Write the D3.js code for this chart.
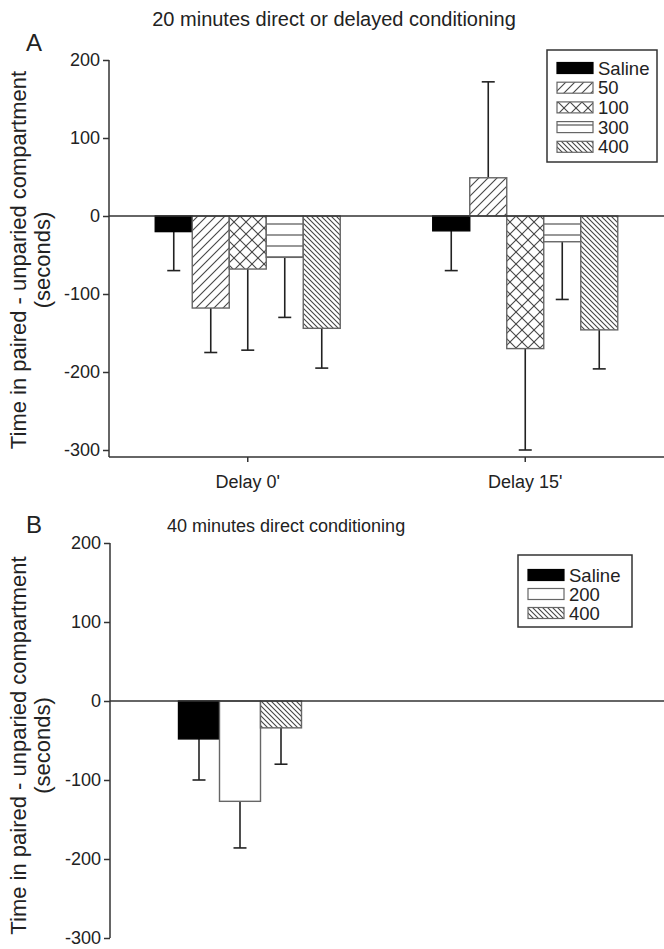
<!DOCTYPE html>
<html>
<head>
<meta charset="utf-8">
<script src="https://cdnjs.cloudflare.com/ajax/libs/d3/7.8.5/d3.min.js"></script>
<style>
  body { margin: 0; background: #fff; }
  svg text { font-family: "Liberation Sans", Arial, sans-serif; fill: #222; }
  .axis path, .axis line { stroke: #333; stroke-width: 1.5; }
  .axis text { font-size: 18px; fill: #222; font-family: "Liberation Sans", Arial, sans-serif; }
</style>
</head>
<body>
<div id="chart"></div>
<script>
// panel A: 20 minutes, direct or delayed
var groupsA = ["Delay 0'", "Delay 15'"];
var dosesA = ["Saline", "50", "100", "300", "400"];
var meansA = [[-20, -118, -68, -53, -144], [-19, 49, -170, -33, -146]];
var tipsA = [[-70, -175, -172, -130, -195], [-70, 172, -300, -107, -196]];

// panel B: 40 minutes direct
var dosesB = ["Saline", "200", "400"];
var meansB = [-48, -127, -34];
var tipsB = [-100, -186, -80];

var yTicks = [-300, -200, -100, 0, 100, 200];

var svgWidth = 664, svgHeight = 949;

var svg = d3.select("#chart")
  .append("svg")
  .attr("width", svgWidth)
  .attr("height", svgHeight);

// fill patterns for each dose
var defs = svg.append("defs");

function linePattern(id, size, lines, bg) {
  var p = defs.append("pattern")
    .attr("id", id)
    .attr("patternUnits", "userSpaceOnUse")
    .attr("width", size)
    .attr("height", size);
  p.append("rect").attr("width", size).attr("height", size).attr("fill", bg);
  lines.forEach(function (l) {
    p.append("path").attr("d", l)
      .attr("stroke", "#444").attr("stroke-width", 1.1).attr("fill", "none");
  });
}
var s1 = 9, s2 = 12, s3 = 11, s4 = 5;
linePattern("p50", s1, [`M0,${s1} L${s1},0`, `M-1,1 L1,-1`, `M${s1 - 1},${s1 + 1} L${s1 + 1},${s1 - 1}`], "#fff");
linePattern("p100", s2, [`M0,${s2} L${s2},0`, `M0,0 L${s2},${s2}`], "#fff");
linePattern("p300", s3, [`M0,4 L${s3},4`], "#fff");
linePattern("p400", s4, [`M0,0 L${s4},${s4}`, `M-1,${s4 - 1} L1,${s4 + 1}`, `M${s4 - 1},-1 L${s4 + 1},1`], "#fff");

var fills = {
  "Saline": "#000",
  "50": "url(#p50)",
  "100": "url(#p100)",
  "200": "#fff",
  "300": "url(#p300)",
  "400": "url(#p400)"
};

// draws one panel: y axis, zero line, bars, error bars, legend
function drawPanel(opt) {
  var yScale = d3.scaleLinear().domain([-300, 200]).range([opt.bottom, opt.top]);

  var yAxis = d3.axisLeft(yScale).tickValues(yTicks).tickSize(6).tickPadding(3)
    .tickSizeOuter(0).tickFormat(function (d) { return String(d); });
  var yg = svg.append("g")
    .attr("class", "axis")
    .attr("transform", `translate(${opt.left},0)`)
    .call(yAxis);
  // the y axis line runs down to the x axis
  yg.select(".domain").attr("d", `M0,${opt.top}V${opt.axisEnd}`);

  // axis title, two lines
  var midY = (opt.top + opt.bottom) / 2 + 5;
  svg.append("text")
    .attr("transform", `translate(26,${midY}) rotate(-90)`)
    .attr("text-anchor", "middle")
    .style("font-size", "22px")
    .text("Time in paired - unparied compartment");
  svg.append("text")
    .attr("transform", `translate(50,${midY}) rotate(-90)`)
    .attr("text-anchor", "middle")
    .style("font-size", "22px")
    .text("(seconds)");

  // panel letter and title
  svg.append("text")
    .attr("x", 26).attr("y", opt.letterY)
    .style("font-size", "24px")
    .text(opt.letter);
  svg.append("text")
    .attr("x", opt.titleX).attr("y", opt.titleY)
    .attr("text-anchor", opt.titleAnchor)
    .style("font-size", opt.titleSize)
    .text(opt.title);

  var x0 = d3.scaleBand().domain(opt.groups).range(opt.xRange);
  var x1 = d3.scaleBand().domain(opt.doses).range([0, opt.barW * opt.doses.length]);

  var rows = [];
  opt.groups.forEach(function (g, gi) {
    opt.doses.forEach(function (d, di) {
      rows.push({ group: g, dose: d, mean: opt.means[gi][di], tip: opt.tips[gi][di] });
    });
  });

  var offset = -opt.barW * opt.doses.length / 2;
  function barX(r) { return x0(r.group) + x0.bandwidth() / 2 + offset + x1(r.dose); }

  // error bars first so bars sit on top
  var err = svg.append("g");
  rows.forEach(function (r) {
    var cx = barX(r) + opt.barW / 2;
    err.append("line")
      .attr("x1", cx).attr("x2", cx)
      .attr("y1", yScale(r.mean)).attr("y2", yScale(r.tip))
      .attr("stroke", "#222").attr("stroke-width", 1.6);
    err.append("line")
      .attr("x1", cx - 6.5).attr("x2", cx + 6.5)
      .attr("y1", yScale(r.tip)).attr("y2", yScale(r.tip))
      .attr("stroke", "#222").attr("stroke-width", 1.6);
  });

  svg.append("g").selectAll("rect")
    .data(rows)
    .enter()
    .append("rect")
    .attr("x", barX)
    .attr("width", opt.barW)
    .attr("y", function (r) { return yScale(Math.max(0, r.mean)); })
    .attr("height", function (r) { return Math.abs(yScale(r.mean) - yScale(0)); })
    .attr("fill", function (r) { return fills[r.dose]; })
    .attr("stroke", function (r) { return r.dose === "Saline" ? "#000" : "#666"; })
    .attr("stroke-width", 1.4);

  // zero line
  svg.append("line")
    .attr("x1", opt.left).attr("x2", svgWidth)
    .attr("y1", yScale(0)).attr("y2", yScale(0))
    .attr("stroke", "#333").attr("stroke-width", 1.5);

  // x axis only when there are category labels
  if (opt.showX) {
    var xAxis = d3.axisBottom(x0).tickSize(5).tickPadding(13).tickSizeOuter(0);
    svg.append("g")
      .attr("class", "axis")
      .attr("transform", `translate(0,${opt.axisEnd})`)
      .call(xAxis)
      .call(function (g) { g.select(".domain").attr("d", `M${opt.left},0H${svgWidth}`); });
  }

  // legend
  var lg = opt.legend;
  var legend = svg.append("g");
  legend.append("rect")
    .attr("x", lg.x).attr("y", lg.y)
    .attr("width", lg.w).attr("height", lg.h)
    .attr("fill", "#fff").attr("stroke", "#333").attr("stroke-width", 1.5);
  opt.doses.forEach(function (d, i) {
    var cy = lg.first + i * lg.step;
    legend.append("rect")
      .attr("x", lg.x + 10).attr("y", cy - 5.5)
      .attr("width", 36).attr("height", 11)
      .attr("fill", fills[d])
      .attr("stroke", d === "Saline" ? "#000" : "#666").attr("stroke-width", 1.2);
    legend.append("text")
      .attr("x", lg.x + 51).attr("y", cy + 6.5)
      .style("font-size", "18.5px")
      .text(d);
  });
}

drawPanel({
  letter: "A", letterY: 51,
  title: "20 minutes direct or delayed conditioning", titleX: 334, titleY: 26, titleAnchor: "middle", titleSize: "20px",
  top: 60, bottom: 450, axisEnd: 457, left: 109,
  groups: groupsA, doses: dosesA, means: meansA, tips: tipsA,
  xRange: [109, 664], barW: 37, showX: true,
  legend: { x: 547, y: 50, w: 110, h: 112, first: 68, step: 19.7 }
});

drawPanel({
  letter: "B", letterY: 533,
  title: "40 minutes direct conditioning", titleX: 167, titleY: 532, titleAnchor: "start", titleSize: "18px",
  top: 543, bottom: 938, axisEnd: 938, left: 110,
  groups: ["direct"], doses: dosesB, means: [meansB], tips: [tipsB],
  xRange: [110, 370], barW: 41, showX: false,
  legend: { x: 518, y: 555, w: 114, h: 72, first: 575, step: 19 }
});
</script>
</body>
</html>
